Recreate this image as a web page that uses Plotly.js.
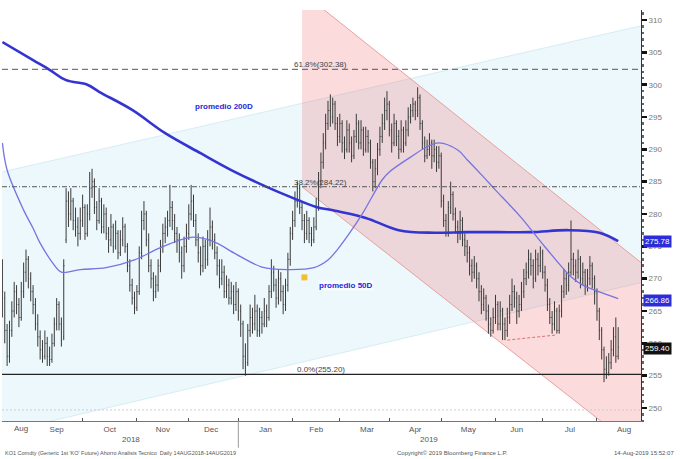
<!DOCTYPE html>
<html><head><meta charset="utf-8">
<script src="https://cdn.plot.ly/plotly-3.0.1.min.js"></script>
<style>html,body{margin:0;padding:0;background:#fff}#chart{width:680px;height:459px}</style>
</head><body><div id="chart"></div>
<script>
// ---- DATA (daily bars, first trading day 14-Aug-2018) ----
const firstDay = '2018-08-14';
const openP = [270,267,262,258,262,265,268,266,264,268, 271,273,270,268,266,263,261,259,258,260,
258,257.5,260,263,266,263,261,276,282,280, 282,279,278,277,279,281,277,280,284,285,
281,279,282,278,280,277,276,278,275,277, 274,276,278,275,272,269,267,265.5,268,274,
279,280,276,272,270,268,269,272,275,277, 278,279,281,279,277,276,274,272,275,277,
280,282,279,276,274,272,275,273,276,278, 276,274,272,270,271,268,269,267,268,266,
268,265,263,258,257,262,264,263,265,262, 264,263,265,264,268,271,269,267,270,268,
266,269,273,277,279,282,284,281,279,277, 279,277,276,278,281,285,288,291,294,296,
295,297,294,292,294,291,290,293,291,289, 292,294,291,293,290,292,291,288,285,287,
290,292,294,296,297,293,291,294,292,290, 293,291,293,295,296,297,296,298,294,291,
289,290,291,289,290,288,289,282,279,277, 281,283,280,278,277,279,276,275,274,272,
271,272,270,268,266,267,265,263,262,264, 266,263,265,263,262,264,266,268,267,265,
266,268,270,271,273,272,270,273,272,274, 271,269,266,264,263,265,262,265,268,270,
269,271,273,272,271,273,270,271,269,270, 272,270,268,265,262,259,256,255.5,257,259,
261,258];
const highP = [273,268,263,263.5,266.5,269.5,269,267,269.5,272.5, 274.5,273.5,271,269,267,264.5,262,260.5,262,261,
259.5,261.5,264,267,266.5,264,273,284,283.5,284, 282.5,281,279.5,281,283,281.5,281.5,286.5,287,285.5,
282,284,282.5,281.5,281,278,280,278.5,279,277.5, 277.5,279.5,278.5,275.5,273,270,268,269,275,280.5,
282,280.5,277,273,271,270.5,273,276,278.5,279.5, 280.5,284.5,282,280,278,277,275,276.5,278.5,281.5,
284.5,283,280,277,275,276.5,276,277.5,281,279, 277,275,273,273,272,270.5,270,269.5,269,269.5,
268.5,266,263.5,260,263,266,265.5,267.5,266,265.5, 265,267,266,269,273,272,270,271.5,271,269,
270,274,278,280.5,283.5,285,284.5,282,280,280.5, 279.5,278,279.5,282.5,286.5,289.5,292.5,295.5,297.5,298.5,
298,297.5,295,295.5,294.5,292,294.5,294,292,293, 295.5,294.5,294.5,293.5,293.5,293,291.5,288.5,288.5,291,
293.5,295.5,298,299,297.5,294,295.5,294.5,293,294.5, 293.5,294.5,296.5,297,298,297.5,299.6,298.5,294.5,292,
291.5,292.5,291.5,291.5,290.5,290.5,289.5,283,280,282, 285,283.5,281,279,280.5,279.5,277,276,275,273,
273.5,272.5,271,269,268.5,267.5,266,264,265.5,267.5, 266.5,266.5,265.5,264,265.5,267.5,270,269,268,267.5,
269.5,271.5,272.5,274.5,274,273,274.5,274,275,274.5, 272,270,267,265,266.5,265.5,266,269,271.5,271,
272.5,279,274,273,274.5,273.5,272.5,271.5,271.5,273.5, 272.5,270.5,268.5,265.5,262.5,259.5,258,258.5,260.5,262.5,
264,262.5];
const lowP = [264,260,256.5,257,261,264,264.5,262.5,263.5,267, 269.5,268.5,266.5,264.5,262,259.5,257.5,257,257.5,256.5,
256.5,257,259.5,262,262,259.5,260.5,275.5,278,279, 277.5,276.5,275,276,278,276,276.5,279,282.5,280,
277.5,278.5,277,277,276,274,275,274,274.5,273, 273.5,275,274,271,268,266,264.5,265,267.5,273,
277.5,275,271,268.5,266.5,267,268,271,274,275.5, 276.5,278,277.5,275.5,274,272.5,270,271,274,276,
279,278,275,272.5,270.5,271,271.5,272,275,274.5, 273,270.5,268.5,269,267,267,266,266,264.5,265,
263.5,261,256,255,256.5,261,261.5,262,261,261, 261.5,262.5,262.5,263.5,267,268,265.5,266,266.5,264.5,
265,268,272,276,278,281,280,277.5,275.5,276, 275.5,275,275.5,277.5,280.5,284,287,290,293,293.5,
294,293,290.5,291,289.5,288.5,289.5,289.5,288,288.5, 291,290,290,289,289.5,289.5,287,283.5,284,286,
289,291,293,294.5,292,289.5,290.5,290.5,288.5,289.5, 289.5,290.5,292,294,295,294.5,295,293,290,288,
288.5,289,287,288,286.5,287,281,278,276.5,276.5, 280,279,277,275.5,276,275,273.5,272.5,270.5,269.5,
270,268.5,266.5,264.5,265,263.5,261.5,261,261.5,263, 262,262,260.5,260.5,261,263,265,265.5,263,264,
265,267,269,270,270.5,268.5,269.5,270.5,271,270, 268,265,263,261.5,262,261.5,261.5,264,267,267.5,
268,270.5,270.5,269.5,270,268.5,269,267.5,268,269, 268.5,266,263.5,260.5,257.5,254,254.5,255,256,258,
257,257.5];
const closeP = [268,262,258,262,265,268,266,264,268,271, 273,270,268,266,263,261,259,258,260,258,
257.5,260,263,266,263,260.5,272,282,280,282, 279,278,277,279,281,277,280,284,285,281,
279,282,278,280,277,276,278,275,277,274, 276,278,275,272,269,267,265.5,268,274,279,
280,276,272,270,268,269,272,275,277,278, 279,281,279,277,276,274,272,275,277,280,
282,279,276,274,272,275,273,276,278,276, 274,272,270,271,268,269,267,268,266,268,
265,263,258,257,262,264,263,265,262,264, 263,265,264,268,271,269,267,270,268,266,
269,273,277,279,282,284,281,279,277,279, 277,276,278,281,285,288,291,294,296,295,
297,294,292,294,291,290,293,291,289,292, 294,291,293,290,292,291,288,285,287,290,
292,294,296,297,293,291,294,292,290,293, 291,293,295,296,297,296,298,294,291,289,
290,291,289,290,288,289,282,279,277,281, 283,280,278,277,279,276,275,274,272,271,
272,270,268,266,267,265,263,262,264,266, 263,265,263,262,264,266,268,267,265,266,
268,270,271,273,272,270,273,272,274,271, 269,266,264,263,265,262,265,268,270,269,
271,273,272,271,273,270,271,269,270,272, 270,268,265,262,259,256,255.5,257,259,261,
258,259.4];

// moving averages
const ma200Dates = ['2018-08-14','2018-08-31','2018-09-11','2018-09-20','2018-10-03','2018-10-10','2018-10-30','2018-11-19','2018-12-10','2018-12-27','2019-01-17','2019-02-01','2019-02-15','2019-02-27','2019-03-18','2019-04-05','2019-04-26','2019-05-16','2019-06-04','2019-06-24','2019-07-16','2019-08-02','2019-08-14'];
const ma200 = [306.6,303.8,302.3,300.7,300.0,298.9,296.1,292.5,289.4,286.8,284.2,282.5,281.1,280.5,279.4,277.5,277.1,277.2,277.2,277.2,277.5,277.1,275.8];
const ma50Dates = ['2018-08-14','2018-08-16','2018-08-27','2018-08-31','2018-09-05','2018-09-13','2018-09-18','2018-09-28','2018-10-15','2018-10-31','2018-11-15','2018-12-04','2018-12-17','2018-12-31','2019-01-15','2019-01-30','2019-02-14','2019-02-22','2019-02-28','2019-03-08','2019-03-15','2019-03-27','2019-04-01','2019-04-12','2019-04-23','2019-04-30','2019-05-10','2019-05-16','2019-05-27','2019-06-03','2019-06-11','2019-06-18','2019-07-02','2019-07-17','2019-07-24','2019-08-01','2019-08-14'];
const ma50 = [291,286.8,280.6,277.8,275.5,272.1,271,271.4,271.7,272.9,274.8,276.4,275.8,273.8,271.8,271.4,271.7,272.9,274.5,277.5,280.3,285.3,286.5,288.8,290.4,291,289.9,288.4,285.7,283.7,281.4,279.4,274.9,270.3,269,268.1,266.9];

// Fibonacci levels
const fibValues = [302.38, 284.22, 255.20];
const fibText = ['61.8%(302.38)', '38.2%(284.22)', '0.0%(255.20)'];
// channels: [date, value] end points
const xStart = '2018-08-13 20:00', xEnd = '2019-08-27 16:00';
const cyanUpper = [286.5, 309.1];
const cyanLower = [246.2, 269.4];
const pinkStart = '2019-02-07';
const pinkUpper = [314.3, 272.5];
const pinkLower = [284.2, 243.1];
const supportLine = {x: ['2019-06-10','2019-07-09'], y: [260.5, 261.3]};
const lastLabels = [{v:275.78, t:'275.78', c:'#2c2cd8'}, {v:266.6, t:'266.86', c:'#2c2cd8'}, {v:259.2, t:'259.40', c:'#111'}];
const yTicks = [250,255,260,265,270,275,280,285,290,295,300,305,310];

// ---- build trading dates ----
function tradingDays(start, n){
  const out=[]; const d=new Date(start+'T00:00:00Z');
  while(out.length<n){ const wd=d.getUTCDay(); if(wd!==0&&wd!==6) out.push(d.toISOString().slice(0,10)); d.setUTCDate(d.getUTCDate()+1); }
  return out;
}
const dates = tradingDays(firstDay, closeP.length);
const pd = s => s.replace(' ', '_');

const traces = [
  {type:'ohlc', x:dates, open:openP, high:highP, low:lowP, close:closeP,
   increasing:{line:{color:'#3a3a3a', width:1}}, decreasing:{line:{color:'#3a3a3a', width:1}},
   tickwidth:0.3, hoverinfo:'skip', showlegend:false},
  {type:'scatter', mode:'lines', x:ma200Dates, y:ma200, line:{color:'#3434d2', width:2.6, shape:'spline'}, hoverinfo:'skip', showlegend:false},
  {type:'scatter', mode:'lines', x:ma50Dates, y:ma50, line:{color:'#7474e2', width:1.3, shape:'spline'}, hoverinfo:'skip', showlegend:false},
  {type:'scatter', mode:'markers', x:['2019-02-08'], y:[270.2], marker:{symbol:'square', size:6, color:'#f0c030'}, hoverinfo:'skip', showlegend:false}
];

const shapes = [
  {type:'path', xref:'x', yref:'y', layer:'below', line:{width:0}, fillcolor:'#ecf8fc',
   path:`M ${pd(xStart)},${cyanUpper[0]} L ${pd(xEnd)},${cyanUpper[1]} L ${pd(xEnd)},${cyanLower[1]} L ${pd(xStart)},${cyanLower[0]} Z`},
  {type:'line', xref:'x', yref:'y', layer:'below', x0:xStart, x1:xEnd, y0:cyanUpper[0], y1:cyanUpper[1], line:{color:'#d6edf4', width:1}},
  {type:'line', xref:'x', yref:'y', layer:'below', x0:xStart, x1:xEnd, y0:cyanLower[0], y1:cyanLower[1], line:{color:'#d6edf4', width:1}},
  {type:'path', xref:'x', yref:'y', layer:'below', line:{width:0}, fillcolor:'rgba(240,110,110,0.25)',
   path:`M ${pinkStart},${pinkUpper[0]} L ${pd(xEnd)},${pinkUpper[1]} L ${pd(xEnd)},${pinkLower[1]} L ${pinkStart},${pinkLower[0]} Z`},
  {type:'line', xref:'x', yref:'y', layer:'below', x0:pinkStart, x1:xEnd, y0:pinkUpper[0], y1:pinkUpper[1], line:{color:'#e8a0a0', width:1}},
  {type:'line', xref:'x', yref:'y', layer:'below', x0:pinkStart, x1:xEnd, y0:pinkLower[0], y1:pinkLower[1], line:{color:'#e8a0a0', width:1}},
  {type:'line', xref:'paper', yref:'y', x0:0, x1:1, y0:fibValues[0], y1:fibValues[0], line:{color:'#555', width:1, dash:'6px,4px'}},
  {type:'line', xref:'paper', yref:'y', x0:0, x1:1, y0:fibValues[1], y1:fibValues[1], line:{color:'#555', width:1, dash:'5px,2px,1px,2px'}},
  {type:'line', xref:'paper', yref:'y', x0:0, x1:1, y0:fibValues[2], y1:fibValues[2], line:{color:'#222', width:1.3}},
  {type:'line', xref:'paper', yref:'y', x0:0, x1:1, y0:249.7, y1:249.7, line:{color:'#ccc', width:1, dash:'2px,2px'}},
  {type:'line', xref:'x', yref:'y', x0:supportLine.x[0], x1:supportLine.x[1], y0:supportLine.y[0], y1:supportLine.y[1], line:{color:'#e07070', width:1, dash:'3px,2px'}},
  {type:'line', xref:'x', yref:'paper', x0:'2019-01-01', x1:'2019-01-01', y0:0, y1:-0.065, line:{color:'#999', width:1}}
];

const ann = [];
fibValues.forEach((v,i)=>ann.push({xref:'paper', yref:'y', x:0.499, y:v, yanchor:'bottom', xanchor:'center', showarrow:false, text:fibText[i], font:{size:8, color:'#444', family:'Liberation Sans'}, yshift:-2}));
ann.push({xref:'paper', yref:'y', x:0.299, y:296.7, showarrow:false, text:'<b>promedio 200D</b>', font:{size:8, color:'#2727d8', family:'Liberation Sans'}});
ann.push({xref:'paper', yref:'y', x:0.539, y:268.9, showarrow:false, text:'<b>promedio 50D</b>', bgcolor:'rgba(255,255,255,0.55)', borderpad:0, font:{size:8, color:'#2727d8', family:'Liberation Sans'}});
lastLabels.forEach(l=>ann.push({xref:'paper', yref:'y', x:1, y:l.v, xanchor:'left', xshift:2, showarrow:false, text:l.t, bgcolor:l.c, borderpad:1, font:{size:8, color:'#fff', family:'Liberation Sans'}}));
// first (partial) month label, hidden by period mode at the axis edge
ann.push({xref:'paper', yref:'paper', x:0.016, y:-0.0185, yanchor:'middle', showarrow:false, text:'Aug', font:{size:8, color:'#555', family:'Liberation Sans'}});
ann.push({xref:'paper', yref:'paper', x:0.185, y:-0.046, yanchor:'middle', showarrow:false, text:'2018', font:{size:8, color:'#555', family:'Liberation Sans'}});
ann.push({xref:'paper', yref:'paper', x:0.685, y:-0.046, yanchor:'middle', showarrow:false, text:'2019', font:{size:8, color:'#555', family:'Liberation Sans'}});
ann.push({xref:'paper', yref:'paper', x:0.002, y:-0.077, xanchor:'left', yanchor:'middle', showarrow:false, text:"KO1 Comdty (Generic 1st 'KO' Future) Ahorro Analisis Tecnico  Daily 14AUG2018-14AUG2019", font:{size:5.5, color:'#555', family:'Liberation Sans'}});
ann.push({xref:'paper', yref:'paper', x:0.705, y:-0.077, xanchor:'center', yanchor:'middle', showarrow:false, text:'Copyright© 2019 Bloomberg Finance L.P.', font:{size:6, color:'#555', family:'Liberation Sans'}});
ann.push({xref:'paper', yref:'paper', x:1.055, y:-0.077, xanchor:'right', yanchor:'middle', showarrow:false, text:'14-Aug-2019 15:52:07', font:{size:6, color:'#555', family:'Liberation Sans'}});

const layout = {
  width:680, height:459, margin:{l:2, r:39, t:10, b:38},
  paper_bgcolor:'#fff', plot_bgcolor:'#fff', showlegend:false, dragmode:false,
  font:{family:'Liberation Sans', color:'#555'},
  xaxis:{type:'date', range:[xStart, xEnd], rangebreaks:[{bounds:['sat','mon']}],
    tick0:'2018-08-01', dtick:'M1', tickformat:'%b', ticklabelmode:'period',
    ticks:'inside', ticklen:3, tickcolor:'#555', showline:true, linecolor:'#777', linewidth:1,
    showgrid:false, zeroline:false, rangeslider:{visible:false}, fixedrange:true,
    tickfont:{size:8, color:'#555'}},
  yaxis:{side:'right', range:[247.99, 311.55], tickvals:yTicks, ticktext:yTicks.map(String),
    ticks:'outside', ticklen:5, tickwidth:2.5, tickcolor:'#111', showline:true, linecolor:'#333', linewidth:1,
    minor:{dtick:1, ticks:'outside', ticklen:2, tickcolor:'#666', showgrid:false},
    showgrid:false, zeroline:false, fixedrange:true, tickfont:{size:8, color:'#777'}},
  shapes:shapes, annotations:ann
};
Plotly.newPlot('chart', traces, layout, {displayModeBar:false, staticPlot:true});
</script></body></html>
